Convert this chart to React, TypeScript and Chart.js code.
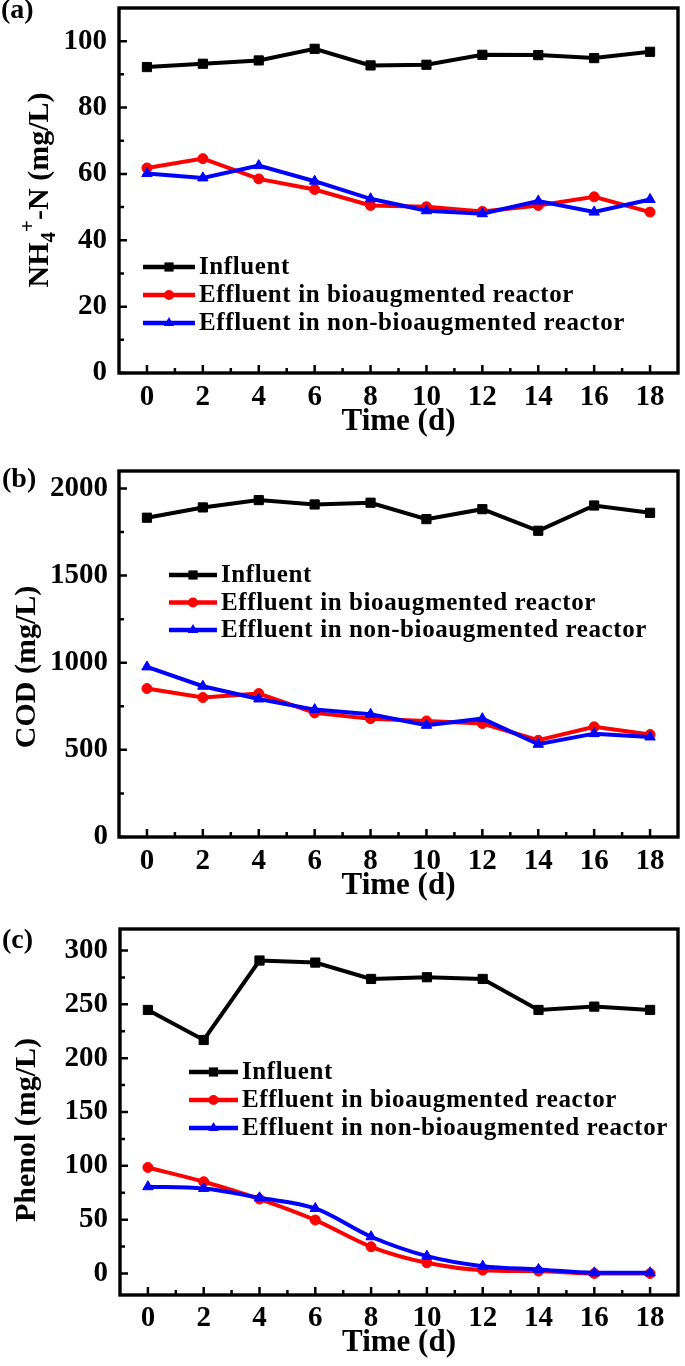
import React, { useEffect, useRef } from 'react';
import { Chart, registerables } from 'chart.js';

Chart.register(...registerables);

// ---------------- data ----------------
const days = [0, 2, 4, 6, 8, 10, 12, 14, 16, 18];
const xMajorTicks = [0, 2, 4, 6, 8, 10, 12, 14, 16, 18];
const xMinorTicks = [1, 3, 5, 7, 9, 11, 13, 15, 17];
const seriesLabels = ['Influent', 'Effluent in bioaugmented reactor', 'Effluent in non-bioaugmented reactor'];
const xTitle = 'Time (d)';
const panelLabels = ['(a)', '(b)', '(c)'];

// (a) NH4+-N (mg/L)
const nh4Influent = [92.2, 93.2, 94.2, 97.7, 92.7, 92.9, 95.9, 95.8, 94.9, 96.8];
const nh4Bio = [61.8, 64.6, 58.5, 55.3, 50.5, 50.1, 48.7, 50.5, 53.1, 48.5];
const nh4NonBio = [60.1, 58.8, 62.5, 57.8, 52.5, 48.9, 48.0, 51.8, 48.5, 52.3];
const nh4Ticks = [0, 20, 40, 60, 80, 100];
const nh4MinorTicks = [10, 30, 50, 70, 90];

// (b) COD (mg/L)
const codInfluent = [1832, 1891, 1933, 1908, 1918, 1824, 1881, 1757, 1902, 1860];
const codBio = [852, 800, 823, 712, 679, 666, 651, 555, 632, 588];
const codNonBio = [976, 865, 792, 731, 704, 641, 679, 532, 593, 574];
const codTicks = [0, 500, 1000, 1500, 2000];
const codMinorTicks = [250, 750, 1250, 1750];

// (c) Phenol (mg/L)
const phenolInfluent = [244.8, 216.9, 290.7, 288.8, 273.6, 275.2, 273.6, 244.8, 247.9, 244.8];
const phenolBio = [98.5, 85.2, 69.1, 49.6, 24.8, 9.9, 3.1, 2.2, 0, 0];
const phenolNonBio = [80.6, 79.0, 70.3, 60.4, 34.1, 16.1, 6.8, 3.7, 0.6, 0.6];
const phenolTicks = [0, 50, 100, 150, 200, 250, 300];
const phenolMinorTicks = [25, 75, 125, 175, 225, 275];

const nh4Title = [{ t: 'NH' }, { t: '4', sub: true }, { t: '+', sup: true }, { t: '-N (mg/L)' }];
const codTitle = [{ t: 'COD (mg/L)' }];
const phenolTitle = [{ t: 'Phenol (mg/L)' }];

// ---------------- styles / layout ----------------
const FAMILY = '"Liberation Serif", "Times New Roman", Times, serif';
const seriesStyles = [
  { color: '#000000', pointStyle: 'rect', radius: 6.5 },
  { color: '#ff0000', pointStyle: 'circle', radius: 5 },
  { color: '#0000ff', pointStyle: 'triangle', radius: 6 },
];

const panels = [
  {
    key: 'a', label: panelLabels[0], top: 0, h: 450,
    area: { l: 119, r: 678, t: 8, b: 373 },
    yMin: 0, yMax: 110, yTicks: nh4Ticks, yMinor: nh4MinorTicks,
    series: [nh4Influent, nh4Bio, nh4NonBio], smooth: false,
    yTitle: nh4Title, yTitlePos: { x: 48, y: 190 },
    labelPos: { x: 1, y: 18 },
    legend: { lx: 143, tx: 199, y: 267, dy: 28 },
    yPad: 12, xPad: 10, titlePad: 12.5,
  },
  {
    key: 'b', label: panelLabels[1], top: 450, h: 455,
    area: { l: 119, r: 678, t: 21, b: 387 },
    yMin: 0, yMax: 2100, yTicks: codTicks, yMinor: codMinorTicks,
    series: [codInfluent, codBio, codNonBio], smooth: false,
    yTitle: codTitle, yTitlePos: { x: 35, y: 217 },
    labelPos: { x: 2, y: 37 },
    legend: { lx: 169, tx: 221, y: 125, dy: 27.5 },
    yPad: 11, xPad: 10, titlePad: 3.5,
  },
  {
    key: 'c', label: panelLabels[2], top: 905, h: 461,
    area: { l: 120, r: 678, t: 24, b: 390 },
    yMin: -20, yMax: 320, yTicks: phenolTicks, yMinor: phenolMinorTicks,
    series: [phenolInfluent, phenolBio, phenolNonBio], smooth: true,
    yTitle: phenolTitle, yTitlePos: { x: 35, y: 225 },
    labelPos: { x: 2, y: 43 },
    legend: { lx: 189, tx: 242, y: 167, dy: 28 },
    yPad: 12, xPad: 9, titlePad: 7.5,
  },
];

function drawMarker(ctx: CanvasRenderingContext2D, style: string, x: number, y: number, r: number, color: string) {
  ctx.fillStyle = color;
  ctx.beginPath();
  if (style === 'rect') {
    const s = r * Math.SQRT1_2;
    ctx.rect(x - s, y - s, 2 * s, 2 * s);
  } else if (style === 'circle') {
    ctx.arc(x, y, r, 0, Math.PI * 2);
  } else {
    let rad = 0;
    ctx.moveTo(x + Math.sin(rad) * r, y - Math.cos(rad) * r);
    rad += (2 * Math.PI) / 3;
    ctx.lineTo(x + Math.sin(rad) * r, y - Math.cos(rad) * r);
    rad += (2 * Math.PI) / 3;
    ctx.lineTo(x + Math.sin(rad) * r, y - Math.cos(rad) * r);
    ctx.closePath();
  }
  ctx.fill();
}

function makeDeco(p: any) {
  return {
    id: 'deco' + p.key,
    beforeDatasetsDraw(chart: any) {
      const { ctx, chartArea: a } = chart;
      const xs = chart.scales.x;
      const ys = chart.scales.y;
      ctx.save();
      ctx.strokeStyle = '#000';
      ctx.lineWidth = 2.5;
      ctx.beginPath();
      for (const v of xMajorTicks) {
        const px = xs.getPixelForValue(v);
        ctx.moveTo(px, a.bottom);
        ctx.lineTo(px, a.bottom - 8);
      }
      for (const v of xMinorTicks) {
        const px = xs.getPixelForValue(v);
        ctx.moveTo(px, a.bottom);
        ctx.lineTo(px, a.bottom - 5);
      }
      for (const v of p.yTicks) {
        const py = ys.getPixelForValue(v);
        ctx.moveTo(a.left, py);
        ctx.lineTo(a.left + 8, py);
      }
      for (const v of p.yMinor) {
        const py = ys.getPixelForValue(v);
        ctx.moveTo(a.left, py);
        ctx.lineTo(a.left + 5, py);
      }
      ctx.stroke();
      ctx.lineWidth = 3.4;
      ctx.strokeRect(a.left, a.top, a.right - a.left, a.bottom - a.top);
      ctx.restore();
    },
    afterDraw(chart: any) {
      const { ctx } = chart;
      ctx.save();
      // legend
      const lg = p.legend;
      chart.data.datasets.forEach((ds: any, i: number) => {
        const y = lg.y + i * lg.dy;
        ctx.strokeStyle = ds.borderColor;
        ctx.lineWidth = 4.5;
        ctx.beginPath();
        ctx.moveTo(lg.lx, y);
        ctx.lineTo(lg.tx - 4, y);
        ctx.stroke();
        drawMarker(ctx, ds.pointStyle, (lg.lx + lg.tx - 4) / 2, y, ds.pointRadius, ds.borderColor);
        ctx.fillStyle = '#000';
        ctx.font = `bold 25px ${FAMILY}`;
        try { (ctx as any).letterSpacing = '0.6px'; } catch (e) { /* ignore */ }
        ctx.textAlign = 'left';
        ctx.textBaseline = 'middle';
        ctx.fillText(ds.label, lg.tx, y + 1);
        try { (ctx as any).letterSpacing = '0px'; } catch (e) { /* ignore */ }
      });
      // y title (rotated, with sub/superscript)
      ctx.translate(p.yTitlePos.x, p.yTitlePos.y);
      ctx.rotate(-Math.PI / 2);
      ctx.fillStyle = '#000';
      ctx.textAlign = 'left';
      ctx.textBaseline = 'alphabetic';
      const big = `bold 30px ${FAMILY}`;
      const small = `bold 21px ${FAMILY}`;
      const widths = p.yTitle.map((s: any) => {
        ctx.font = s.sub || s.sup ? small : big;
        return ctx.measureText(s.t).width;
      });
      const total = widths.reduce((acc: number, w: number) => acc + w, 0);
      let cx = -total / 2;
      p.yTitle.forEach((s: any, i: number) => {
        ctx.font = s.sub || s.sup ? small : big;
        ctx.fillText(s.t, cx, s.sub ? 7 : s.sup ? -14 : 0);
        cx += widths[i];
      });
      ctx.restore();
      // panel label
      ctx.save();
      ctx.fillStyle = '#000';
      ctx.font = `bold 28px ${FAMILY}`;
      ctx.textAlign = 'left';
      ctx.textBaseline = 'alphabetic';
      ctx.fillText(p.label, p.labelPos.x, p.labelPos.y);
      ctx.restore();
    },
  };
}

function buildConfig(p: any): any {
  const tickFont = { family: FAMILY, size: 29, weight: 'bold', lineHeight: 1 };
  const datasets = p.series.map((vals: number[], i: number) => {
    const st = seriesStyles[i];
    return {
      label: seriesLabels[i],
      data: days.map((d, j) => ({ x: d, y: vals[j] })),
      borderColor: st.color,
      backgroundColor: st.color,
      pointBackgroundColor: st.color,
      pointBorderColor: st.color,
      pointStyle: st.pointStyle,
      pointRadius: st.radius,
      pointBorderWidth: 1,
      borderWidth: 4,
      tension: 0,
      cubicInterpolationMode: p.smooth && i > 0 ? 'monotone' : 'default',
      order: 2 - i,
      clip: false,
    };
  });
  return {
    type: 'line',
    data: { datasets },
    options: {
      animation: false,
      responsive: false,
      devicePixelRatio: 1,
      events: [],
      layout: { autoPadding: false, padding: { left: 0, right: 685 - p.area.r, top: p.area.t, bottom: 0 } },
      plugins: { legend: { display: false }, tooltip: { enabled: false }, title: { display: false } },
      scales: {
        x: {
          type: 'linear',
          min: -1,
          max: 19,
          afterBuildTicks: (s: any) => { s.ticks = xMajorTicks.map((v) => ({ value: v })); },
          afterFit: (s: any) => { s.height = p.h - p.area.b; s.paddingLeft = 0; s.paddingRight = 0; },
          ticks: { font: tickFont, color: '#000', padding: p.xPad, autoSkip: false, maxRotation: 0, callback: (v: any) => String(v) },
          grid: { display: false, drawTicks: false },
          border: { display: false },
          title: {
            display: true,
            text: xTitle,
            color: '#000',
            font: { family: FAMILY, size: 31, weight: 'bold', lineHeight: 1 },
            padding: { top: 0, bottom: p.titlePad },
          },
        },
        y: {
          type: 'linear',
          min: p.yMin,
          max: p.yMax,
          afterBuildTicks: (s: any) => { s.ticks = p.yTicks.map((v: number) => ({ value: v })); },
          afterFit: (s: any) => { s.width = p.area.l; s.paddingTop = 0; s.paddingBottom = 0; },
          ticks: { font: tickFont, color: '#000', padding: p.yPad, autoSkip: false, callback: (v: any) => String(v) },
          grid: { display: false, drawTicks: false },
          border: { display: false },
          title: { display: false },
        },
      },
    },
    plugins: [makeDeco(p)],
  };
}

function Panel({ p }: { p: any }) {
  const ref = useRef<HTMLCanvasElement>(null);
  useEffect(() => {
    const chart = new Chart(ref.current as HTMLCanvasElement, buildConfig(p));
    return () => chart.destroy();
  }, [p]);
  return (
    <canvas
      ref={ref}
      width={685}
      height={p.h}
      style={{ position: 'absolute', left: 0, top: p.top, width: 685, height: p.h, display: 'block' }}
    />
  );
}

export default function App() {
  return (
    <div style={{ position: 'absolute', left: 0, top: 0, width: 685, height: 1366, background: '#fff' }}>
      {panels.map((p) => (
        <Panel key={p.key} p={p} />
      ))}
    </div>
  );
}
